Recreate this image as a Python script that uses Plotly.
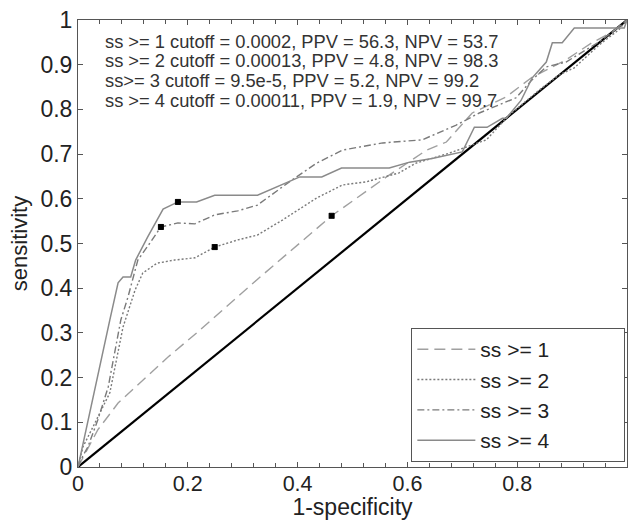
import plotly.graph_objects as go

# ---------------- data ----------------
ss1_fpr = [0, 0.036, 0.073, 0.122, 0.164, 0.218, 0.325, 0.462, 0.562, 0.635, 0.671, 0.718, 0.78, 0.827, 0.889, 0.936, 0.973, 1.0]
ss1_tpr = [0, 0.083, 0.143, 0.199, 0.246, 0.302, 0.418, 0.562, 0.649, 0.709, 0.727, 0.792, 0.828, 0.872, 0.911, 0.949, 0.973, 1.0]

ss2_fpr = [0, 0.009, 0.027, 0.058, 0.082, 0.104, 0.118, 0.144, 0.176, 0.213, 0.249, 0.291, 0.327, 0.373, 0.435, 0.482, 0.525, 0.585, 0.616, 0.676, 0.744, 0.785, 0.84, 0.876, 0.904, 0.949, 0.985, 1.0]
ss2_tpr = [0, 0.045, 0.089, 0.166, 0.313, 0.396, 0.434, 0.456, 0.463, 0.468, 0.492, 0.508, 0.519, 0.553, 0.602, 0.631, 0.638, 0.658, 0.68, 0.702, 0.732, 0.787, 0.843, 0.877, 0.893, 0.944, 0.978, 1.0]

ss3_fpr = [0, 0.005, 0.018, 0.036, 0.055, 0.078, 0.091, 0.109, 0.131, 0.151, 0.182, 0.213, 0.249, 0.291, 0.327, 0.385, 0.435, 0.482, 0.555, 0.627, 0.689, 0.731, 0.798, 0.827, 0.853, 0.889, 0.949, 0.985, 1.0]
ss3_tpr = [0, 0.016, 0.045, 0.105, 0.179, 0.329, 0.38, 0.463, 0.501, 0.537, 0.546, 0.544, 0.564, 0.573, 0.586, 0.638, 0.68, 0.709, 0.725, 0.732, 0.765, 0.792, 0.826, 0.866, 0.895, 0.906, 0.951, 0.984, 1.0]

ss4_fpr = [0, 0.053, 0.058, 0.073, 0.082, 0.096, 0.105, 0.127, 0.155, 0.182, 0.216, 0.249, 0.327, 0.404, 0.444, 0.48, 0.567, 0.604, 0.645, 0.70, 0.722, 0.745, 0.773, 0.78, 0.807, 0.827, 0.853, 0.864, 0.882, 0.904, 0.995, 1.0]
ss4_tpr = [0, 0.306, 0.329, 0.412, 0.425, 0.425, 0.463, 0.515, 0.577, 0.593, 0.593, 0.608, 0.608, 0.649, 0.649, 0.669, 0.669, 0.682, 0.69, 0.705, 0.76, 0.76, 0.78, 0.78, 0.82, 0.87, 0.906, 0.949, 0.949, 0.982, 0.982, 1.0]

cut_fpr = [0.462, 0.249, 0.151, 0.182]
cut_tpr = [0.562, 0.492, 0.537, 0.593]

diag = [0, 1]

names = ["ss >= 1", "ss >= 2", "ss >= 3", "ss >= 4"]
info_lines = [
    "ss >= 1 cutoff = 0.0002, PPV = 56.3, NPV = 53.7",
    "ss >= 2 cutoff = 0.00013, PPV = 4.8, NPV = 98.3",
    "ss>= 3 cutoff = 9.5e-5, PPV = 5.2, NPV = 99.2",
    "ss >= 4 cutoff = 0.00011, PPV = 1.9, NPV = 99.7",
]
x_ticks = [0, 0.2, 0.4, 0.6, 0.8, 1]
x_tick_text = ["0", "0.2", "0.4", "0.6", "0.8", "1"]
y_ticks = [0, 0.1, 0.2, 0.3, 0.4, 0.5, 0.6, 0.7, 0.8, 0.9, 1]
y_tick_text = ["0", "0.1", "0.2", "0.3", "0.4", "0.5", "0.6", "0.7", "0.8", "0.9", "1"]

FONT = "Liberation Sans, Arial, sans-serif"
pad = "\u00a0" * 12

fig = go.Figure()
fig.add_trace(go.Scatter(x=diag, y=diag, mode="lines", line=dict(color="black", width=2.2),
                         showlegend=False, hoverinfo="skip"))
styles = [
    dict(color="#a0a0a0", width=1.4, dash="11px,6px"),
    dict(color="#7a7a7a", width=1.4, dash="2px,2px"),
    dict(color="#7a7a7a", width=1.4, dash="7px,3px,2px,3px"),
    dict(color="#8a8a8a", width=1.5, dash="solid"),
]
for xs, ys, nm, st in zip([ss1_fpr, ss2_fpr, ss3_fpr, ss4_fpr],
                          [ss1_tpr, ss2_tpr, ss3_tpr, ss4_tpr], names, styles):
    fig.add_trace(go.Scatter(x=xs, y=ys, mode="lines", name=nm + pad, line=st))

fig.add_trace(go.Scatter(x=cut_fpr, y=cut_tpr, mode="markers", showlegend=False,
                         marker=dict(symbol="square-x", size=5, color="black",
                                     line=dict(color="black", width=1))))

line_y = [0.9514, 0.9083, 0.8642, 0.8210]
for txt, yy in zip(info_lines, line_y):
    fig.add_annotation(x=0.0455, y=yy, xref="paper", yref="paper", xanchor="left", yanchor="middle",
                       showarrow=False, align="left", text=txt,
                       font=dict(family=FONT, size=18.3, color="#333333"))

axis_common = dict(showline=True, linecolor="#555555", linewidth=1, mirror="ticks",
                   ticks="inside", tickcolor="#555555", ticklen=5, showgrid=False,
                   zeroline=False)

fig.update_xaxes(range=[0, 1], tickvals=x_ticks, ticktext=x_tick_text,
                 tickfont=dict(family=FONT, size=21.5, color="#222222"),
                 ticklabelstandoff=-3,
                 minor=dict(dtick=0.04, ticks="inside", ticklen=4, tickcolor="#555555", showgrid=False),
                 title=dict(text="1-specificity", font=dict(family=FONT, size=23, color="#222222"),
                            standoff=5),
                 **axis_common)
fig.update_yaxes(range=[0, 1], tickvals=y_ticks, ticktext=y_tick_text,
                 tickfont=dict(family=FONT, size=23, color="#222222"),
                 ticklabeloverflow="allow",
                 title=dict(text="sensitivity", font=dict(family=FONT, size=22, color="#222222"),
                            standoff=6),
                 **axis_common)

fig.update_layout(
    width=628, height=520, autosize=False,
    margin=dict(l=78, r=1, t=20, b=53),
    plot_bgcolor="white", paper_bgcolor="white",
    font=dict(family=FONT, color="#222222"),
    legend=dict(x=0.997, y=0.011, xanchor="right", yanchor="bottom",
                bordercolor="#555555", borderwidth=1, bgcolor="white",
                font=dict(family=FONT, size=21, color="#222222"),
                itemwidth=58, tracegroupgap=0),
)

fig.write_html("out.html",
               config={"responsive": False, "displayModeBar": False},
               post_script="document.body.style.margin='0';document.body.style.overflow='hidden';")
